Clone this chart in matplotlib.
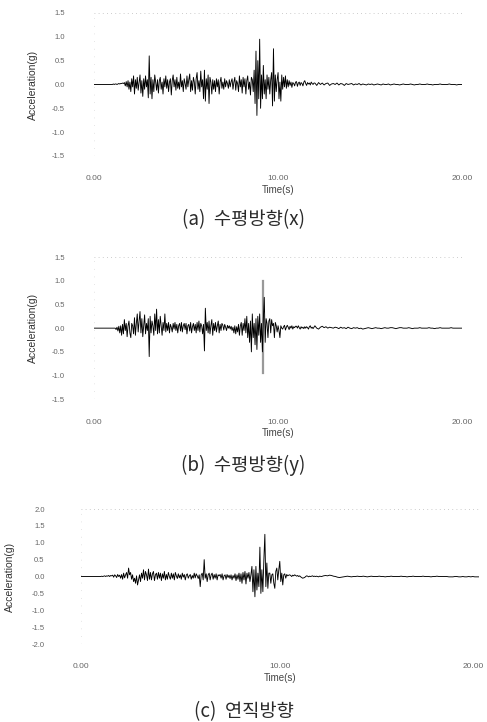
import matplotlib.pyplot as plt
import matplotlib.transforms as mtransforms
import numpy as np

plt.rcParams['font.family'] = ['Noto Sans CJK KR', 'DejaVu Sans']
latin = ['Liberation Sans', 'DejaVu Sans']

# time axis: 0.1 s steps while quiet, 0.05 s steps through the strong shaking
time_s = np.concatenate([
    np.arange(0, 10) * 0.1,          # 0.0 .. 0.9
    1.0 + np.arange(220) * 0.05,     # 1.0 .. 11.95
    12.0 + np.arange(81) * 0.1,      # 12.0 .. 20.0
])

quiet_head = [0.0] * 10

# (a) horizontal x
acc_x = quiet_head + [
    0.0, 0.01, 0.0, 0.01, 0.01, 0.0, 0.01, 0.02, 0.01, 0.02,
    0.02, 0.03, 0.02, 0.04, -0.03, 0.06, -0.05, 0.08, -0.1, 0.05,
    -0.15, 0.12, -0.05, 0.18, -0.2, 0.1, -0.08, 0.15, -0.12, 0.05,
    0.2, -0.18, 0.08, -0.25, 0.12, -0.1, 0.18, -0.05, 0.1, -0.28,
    0.6, -0.2, 0.15, -0.3, 0.1, -0.15, 0.2, 0.05, -0.12, 0.1,
    -0.18, 0.08, 0.15, -0.1, 0.05, -0.2, 0.12, -0.05, 0.18, -0.08,
    0.1, -0.15, 0.05, 0.12, -0.22, 0.08, 0.2, -0.05, 0.1, -0.12,
    0.15, -0.08, 0.05, -0.1, 0.22, -0.05, 0.08, -0.15, 0.12, 0.02,
    -0.1, 0.18, -0.05, 0.1, 0.22, -0.15, 0.08, -0.12, 0.15, 0.05,
    -0.2, 0.12, 0.25, -0.1, 0.08, -0.15, 0.28, -0.05, 0.1, -0.3,
    0.3, -0.35, 0.12, -0.1, 0.2, -0.4, 0.15, 0.05, -0.2, 0.1,
    -0.1, 0.08, -0.15, 0.12, -0.05, 0.1, -0.2, 0.05, 0.15, -0.08,
    0.05, -0.1, 0.12, -0.05, 0.08, 0.02, -0.08, 0.1, -0.05, 0.06,
    0.12, -0.1, 0.05, 0.15, -0.12, 0.08, 0.02, -0.15, 0.18, -0.05,
    0.1, -0.18, 0.15, -0.05, 0.12, -0.2, 0.08, 0.18, -0.1, 0.05,
    -0.22, 0.15, 0.1, -0.15, 0.3, -0.4, 0.7, -0.65, 0.5, -0.3,
    0.95, -0.5, 0.2, -0.3, 0.4, -0.2, 0.1, -0.3, 0.2, -0.1,
    0.15, -0.2, 0.1, 0.25, -0.45, 0.75, -0.35, 0.2, -0.15, 0.1,
    0.25, -0.3, 0.05, -0.35, 0.2, -0.1, 0.15, -0.05, 0.18, -0.08,
    0.1, -0.05, 0.08, -0.02, 0.05, -0.06, 0.04, 0.02, -0.03, 0.05,
    0.06, -0.04, 0.03, 0.05, -0.02, 0.04, 0.02, -0.03, 0.05, 0.08,
    0.02, -0.02, 0.04, 0.01, 0.03, -0.01, 0.05, 0.02, 0.0, 0.03,
] + [
    0.03, -0.02, 0.04, 0.0, 0.03, -0.01, 0.02, 0.03, -0.02, 0.01,
    0.02, 0.0, 0.03, -0.01, 0.02, 0.01, -0.02, 0.02, 0.0, 0.01,
    0.02, -0.01, 0.01, 0.0, 0.02, -0.01, 0.01, 0.0, -0.01, 0.01,
    0.0, 0.01, -0.01, 0.0, 0.01, 0.0, -0.01, 0.01, 0.0, 0.0,
    0.01, -0.01, 0.0, 0.01, 0.0, 0.0, -0.01, 0.0, 0.01, 0.0,
    0.0, 0.0, 0.01, 0.0, -0.01, 0.0, 0.0, 0.01, 0.0, 0.0,
    0.0, 0.01, 0.0, 0.0, -0.01, 0.0, 0.0, 0.0, 0.01, 0.0,
    0.0, 0.0, 0.0, 0.01, 0.0, 0.0, 0.0, -0.01, 0.0, 0.0,
    0.0,
]

# (b) horizontal y
acc_y = quiet_head + [
    0.0, 0.0, 0.0, 0.0, -0.03, 0.02, -0.06, 0.04, -0.1, 0.05,
    -0.15, 0.08, -0.12, 0.18, -0.05, 0.1, -0.18, 0.05, 0.15, -0.1,
    -0.2, 0.1, 0.05, -0.12, 0.22, -0.15, 0.1, 0.3, -0.08, 0.15,
    0.35, -0.1, 0.2, -0.18, 0.05, 0.28, -0.12, 0.1, -0.05, 0.2,
    -0.6, 0.25, -0.1, 0.15, 0.05, -0.15, 0.3, -0.05, 0.4, -0.12,
    0.18, -0.1, 0.25, 0.05, -0.15, 0.12, -0.05, 0.3, -0.08, 0.1,
    -0.05, 0.12, -0.1, 0.08, 0.02, -0.08, 0.1, -0.02, 0.12, -0.05,
    0.08, -0.1, 0.05, 0.1, -0.06, 0.12, -0.08, 0.05, 0.1, -0.03,
    0.1, -0.12, 0.05, 0.08, -0.06, 0.12, -0.1, 0.03, 0.1, -0.05,
    0.08, -0.1, 0.12, -0.05, 0.15, -0.08, 0.1, 0.05, -0.12, 0.08,
    -0.48, 0.42, -0.05, 0.12, -0.1, 0.15, -0.12, 0.05, 0.18, -0.15,
    0.1, -0.05, 0.12, -0.08, 0.05, 0.15, -0.1, 0.08, -0.05, 0.1,
    0.06, -0.04, 0.08, 0.02, -0.05, 0.06, 0.0, 0.05, -0.02, 0.04,
    -0.05, 0.02, -0.1, 0.05, -0.12, 0.03, -0.08, 0.08, -0.15, 0.05,
    0.12, -0.15, 0.1, -0.05, 0.2, -0.1, 0.25, -0.2, 0.1, -0.3,
    0.15, -0.5, 0.3, -0.2, 0.1, -0.35, 0.2, -0.45, 0.25, -0.15,
    0.3, -0.3, 0.1, -0.5, 0.2, 0.65, -0.3, 0.2, 0.1, -0.2,
    0.15, 0.2, -0.1, 0.18, 0.05, 0.1, -0.2, 0.12, 0.05, -0.08,
    0.05, -0.05, -0.2, 0.05, 0.0, -0.02, 0.03, 0.06, -0.04, 0.02,
    0.06, 0.02, -0.03, 0.04, 0.0, 0.05, -0.02, 0.03, 0.01, 0.04,
    0.04, 0.0, 0.05, 0.01, -0.02, 0.03, 0.0, 0.02, -0.01, 0.03,
    0.0, 0.03, 0.01, -0.02, 0.03, 0.05, 0.0, 0.02, -0.01, 0.02,
] + [
    0.05, 0.0, -0.02, 0.02, 0.04, 0.01, 0.03, 0.0, 0.02, 0.01,
    0.0, 0.02, 0.01, -0.01, 0.02, 0.0, 0.01, -0.01, 0.02, 0.0,
    -0.01, 0.01, 0.0, 0.01, -0.01, 0.0, -0.02, -0.01, 0.0, 0.01,
    0.0, -0.01, 0.0, 0.01, 0.0, 0.0, -0.01, 0.0, 0.01, 0.0,
    0.0, 0.01, 0.01, 0.0, -0.01, 0.0, 0.01, 0.01, 0.0, 0.0,
    0.0, 0.01, 0.0, -0.01, 0.0, 0.0, 0.0, 0.01, 0.0, 0.0,
    0.0, 0.0, 0.01, 0.0, 0.0, -0.01, 0.0, 0.0, 0.01, 0.0,
    0.0, 0.0, 0.0, 0.0, 0.01, 0.0, 0.0, 0.0, 0.0, 0.0,
    0.0,
]
# grey vertical stroke in (b)
peak_y_time = [9.2, 9.2]
peak_y_acc = [1.0, -0.95]

# (c) vertical
acc_z = quiet_head + [
    0.0, 0.01, 0.0, 0.01, 0.02, 0.0, 0.02, 0.01, 0.03, 0.0,
    0.03, 0.02, 0.04, -0.02, 0.05, 0.02, -0.03, 0.06, 0.0, 0.04,
    -0.05, 0.06, -0.08, 0.1, -0.04, 0.05, 0.12, -0.05, 0.25, 0.05,
    0.12, -0.08, 0.05, -0.15, -0.05, -0.2, 0.02, -0.25, -0.1, 0.05,
    -0.15, 0.1, -0.05, 0.2, -0.1, 0.15, 0.05, -0.12, 0.22, -0.08,
    0.12, -0.1, 0.08, 0.15, -0.12, 0.05, 0.1, -0.08, 0.12, -0.05,
    0.1, -0.12, 0.08, -0.05, 0.15, -0.1, 0.06, -0.08, 0.12, 0.0,
    -0.08, 0.1, -0.05, 0.08, -0.1, 0.12, 0.02, -0.06, 0.08, -0.04,
    0.05, -0.08, 0.1, -0.02, 0.06, -0.1, 0.04, 0.08, -0.05, 0.02,
    0.06, -0.08, 0.03, -0.05, 0.1, -0.04, 0.08, 0.02, -0.06, 0.05,
    -0.3, 0.05, 0.1, -0.1, 0.5, -0.05, 0.08, -0.15, 0.05, 0.1,
    -0.1, 0.05, 0.1, -0.08, 0.06, -0.05, 0.08, -0.1, 0.05, 0.02,
    0.06, -0.05, 0.08, -0.1, 0.02, 0.05, -0.08, 0.06, -0.03, 0.04,
    -0.06, 0.05, -0.1, 0.03, -0.05, 0.08, -0.12, 0.05, -0.08, 0.1,
    -0.15, 0.08, -0.2, 0.12, -0.1, 0.15, -0.22, 0.1, -0.05, 0.12,
    -0.15, 0.05, 0.3, -0.45, 0.2, -0.6, 0.3, -0.4, 0.1, -0.3,
    0.87, -0.5, 0.2, -0.45, 0.5, 1.25, -0.3, 0.4, -0.35, 0.1,
    0.1, -0.2, 0.05, 0.08, -0.2, -0.35, 0.15, 0.25, -0.1, 0.2,
    0.45, -0.15, 0.1, -0.25, 0.05, 0.08, -0.05, 0.06, 0.02, 0.04,
    0.05, 0.03, 0.0, 0.04, 0.02, 0.05, 0.03, 0.01, 0.03, 0.0,
    0.02, -0.01, -0.03, -0.05, -0.04, -0.03, 0.0, 0.02, 0.01, -0.01,
    0.01, 0.0, 0.01, 0.02, 0.0, 0.01, 0.0, 0.01, 0.0, -0.01,
] + [
    0.01, 0.0, 0.02, 0.03, 0.02, 0.04, 0.03, 0.01, 0.0, -0.02,
    -0.03, -0.02, -0.01, 0.0, 0.01, 0.0, -0.01, 0.0, 0.0, 0.01,
    0.0, 0.0, 0.01, 0.0, -0.01, 0.0, 0.01, 0.0, 0.0, 0.0,
    0.01, 0.0, 0.0, -0.01, 0.0, 0.0, 0.01, 0.0, 0.0, 0.0,
    0.0, 0.01, 0.0, 0.0, -0.01, 0.0, 0.0, 0.01, 0.0, 0.0,
    0.0, 0.0, 0.01, 0.0, 0.0, 0.0, -0.01, 0.0, 0.0, 0.01,
    0.0, 0.0, 0.0, 0.0, 0.0, -0.01, -0.01, -0.01, 0.0, 0.0,
    -0.01, -0.01, 0.0, -0.01, -0.01, 0.0, -0.01, 0.0, -0.01, -0.01,
    -0.01,
]

x_ticks = [0, 10, 20]
x_ticklabels = ['0.00', '10.00', '20.00']
yticks_ab = [-1.5, -1.0, -0.5, 0.0, 0.5, 1.0, 1.5]
yticks_c = [-2.0, -1.5, -1.0, -0.5, 0.0, 0.5, 1.0, 1.5, 2.0]
captions = ['(a)  수평방향(x)', '(b)  수평방향(y)', '(c)  연직방향']

fig = plt.figure(figsize=(4.87, 7.22), dpi=100)

panels = [
    # rect, data, ylim, yticks, caption centre y, ytick pad, ylabel pad
    ([0.193, 0.784, 0.756, 0.198], acc_x, 1.5, yticks_ab, 0.6955, 21, 10),
    ([0.193, 0.447, 0.756, 0.197], acc_y, 1.5, yticks_ab, 0.356, 21, 10),
    ([0.166, 0.108, 0.817, 0.187], acc_z, 2.0, yticks_c, 0.015, 26, 12),
]

for i, (rect, acc, lim, yt, cap_y, ypad, lpad) in enumerate(panels):
    ax = fig.add_axes(rect)
    if i == 1:
        ax.plot(peak_y_time, peak_y_acc, color='#999999', lw=1.6, zorder=1)
    ax.plot(time_s, acc, color='black', lw=0.65, zorder=2)
    ax.set_xlim(0, 20)
    ax.set_ylim(-lim, lim)
    for s in ax.spines.values():
        s.set_visible(False)
    # faint dotted frame lines like the scanned figure
    ax.axhline(lim, color='#bbbbbb', lw=0.6, ls=(0, (1, 4)))
    ax.axhline(-lim, color='#bbbbbb', lw=0.6, ls=(0, (1, 4)))
    ax.axvline(0, color='#cccccc', lw=0.5, ls=(0, (1, 10)))
    ax.set_yticks(yt)
    ax.set_yticklabels([f'{v:.1f}' for v in yt], family=latin)
    ax.set_xticks(x_ticks)
    ax.set_xticklabels(x_ticklabels, family=latin)
    ax.tick_params(length=0, colors='#666666')
    ax.tick_params(axis='y', labelsize=5.5, pad=ypad)
    ax.tick_params(axis='x', labelsize=6, pad=14)
    if i == 2:
        # keep the last tick label inside the canvas
        last = ax.get_xticklabels()[-1]
        last.set_transform(last.get_transform() + mtransforms.ScaledTranslation(
            -4 / 72, 0, fig.dpi_scale_trans))
    ax.set_xlabel('Time(s)', fontsize=7, color='#444444', labelpad=2,
                  family=latin)
    ax.set_ylabel('Acceleration(g)', fontsize=7.5, color='#333333',
                  labelpad=lpad, family=latin)
    fig.text(0.5, cap_y, captions[i], ha='center', va='center',
             fontsize=13.5, color='#2a2a2a')

fig.savefig('out.png', dpi=100)
